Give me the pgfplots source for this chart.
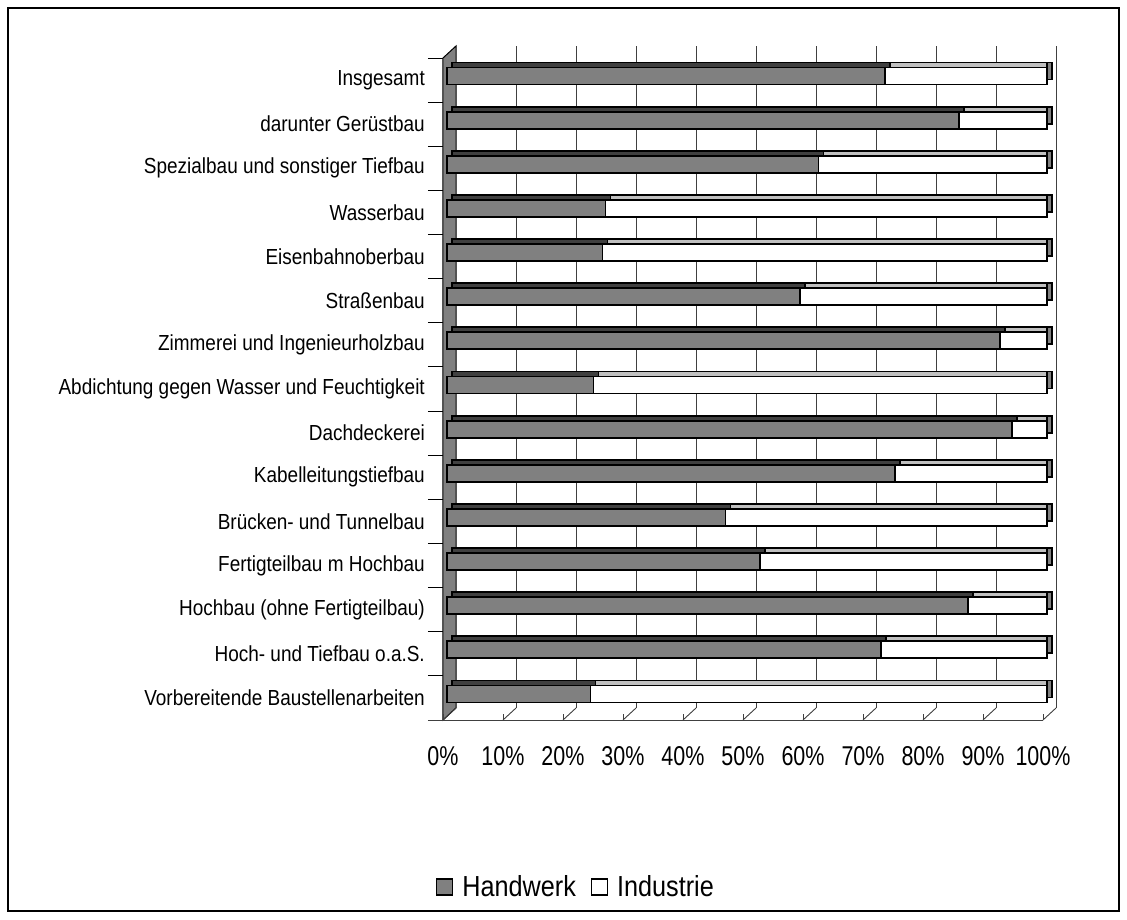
\documentclass[border=0pt]{standalone}
\usepackage{fontspec}
\setmainfont{Liberation Sans}[FakeStretch=0.87]
\newfontfamily\tickfont{Liberation Sans}[FakeStretch=0.79]
\usepackage{pgfplots}
\usepackage{pgfplotstable}
\pgfplotsset{compat=1.18}

\definecolor{hw}{HTML}{808080}
\definecolor{hwtop}{HTML}{404040}
\definecolor{intop}{HTML}{C0C0C0}
\definecolor{grid}{HTML}{404040}

% Anteile in Prozent, y=0 unten (Vorbereitende Baustellenarbeiten)
\pgfplotstableread{
y  H     I
0  23.9  76.1
1  72.3  27.7
2  86.8  13.2
3  52.2  47.8
4  46.4  53.6
5  74.7  25.3
6  94.1  5.9
7  24.4  75.6
8  92.2  7.8
9  58.8  41.2
10 25.9  74.1
11 26.4  73.6
12 61.9  38.1
13 85.3  14.7
14 73.0  27.0
}\anteile

\begin{document}
\begin{tikzpicture}[x=1pt,y=1pt]
\draw[line width=1.5pt] (8,8) rectangle (1119,911);
\begin{axis}[
  at={(443pt,199pt)}, anchor=south west,
  scale only axis, width=600pt, height=662pt,
  xmin=0, xmax=100, ymin=-0.5, ymax=14.5,
  clip=false,
  axis line style={draw=none},
  major tick length=0pt,
  xtick={0,10,...,100},
  xticklabels={0\%,10\%,20\%,30\%,40\%,50\%,60\%,70\%,80\%,90\%,100\%},
  ytick={0,...,14},
  yticklabels={Vorbereitende Baustellenarbeiten,Hoch- und Tiefbau o.a.S.,Hochbau (ohne Fertigteilbau),Fertigteilbau m Hochbau,Brücken- und Tunnelbau,Kabelleitungstiefbau,Dachdeckerei,Abdichtung gegen Wasser und Feuchtigkeit,Zimmerei und Ingenieurholzbau,Straßenbau,Eisenbahnoberbau,Wasserbau,Spezialbau und sonstiger Tiefbau,darunter Gerüstbau,Insgesamt},
  xticklabel style={font=\tickfont\fontsize{27.2}{30}\selectfont, inner sep=0pt, anchor=north, yshift=-26pt},
  yticklabel style={font=\fontsize{21.8}{24}\selectfont, inner sep=0pt, anchor=east, xshift=-18pt},
  legend style={at={(0.22,-0.2523)}, anchor=center, draw=none, fill=none,
    font=\fontsize{29}{32}\selectfont,
    nodes={inner sep=0pt},
    /tikz/every odd column/.append style={column sep=9pt},
    /tikz/every even column/.append style={column sep=15pt}},
  legend columns=-1,
  legend image code/.code={\draw[#1, line width=1.2pt] (0pt,-8pt) rectangle (16pt,8pt);},
  every axis plot/.append style={xbar, bar width=17pt, bar shift=0pt, draw=black, line width=1.8pt},
]
% linke Wand
\filldraw[fill=hw, draw=black, line width=1pt] (axis cs:0,-0.5) -- (axis cs:0,14.5)
  -- ([xshift=13pt,yshift=12pt]axis cs:0,14.5) -- ([xshift=13pt,yshift=12pt]axis cs:0,-0.5) -- cycle;
% Gitter an der Rueckwand, Boden
\pgfplotsinvokeforeach{10,20,...,100}{
  \draw[grid, line width=0.9pt] ([xshift=13pt,yshift=12pt]axis cs:#1,-0.5) -- ([xshift=13pt,yshift=12pt]axis cs:#1,14.5);
}
\pgfplotsinvokeforeach{0,10,...,100}{
  \draw[grid, line width=0.9pt] (axis cs:#1,-0.5) -- ([xshift=13pt,yshift=12pt]axis cs:#1,-0.5);
  \draw[grid, line width=0.9pt] (axis cs:#1,-0.5) -- ++(0,-16pt);
}
\draw[grid, line width=0.9pt] ([xshift=-15pt]axis cs:0,-0.5) -- (axis cs:100,-0.5);
\pgfplotsinvokeforeach{0.5,1.5,...,14.5}{
  \draw[black, line width=0.9pt] ([xshift=-15pt]axis cs:0,#1) -- (axis cs:0,#1);
}

% Balken: Ober-/Seitenflaechen
\addplot[fill=hw, xshift=9pt, yshift=9pt, forget plot] table[x expr=\thisrow{H}+\thisrow{I}, y=y]{\anteile};
\addplot[fill=intop, xshift=9pt, yshift=9pt, forget plot] table[x expr=\thisrow{H}+\thisrow{I}-0.833, y=y]{\anteile};
\addplot[fill=hwtop, xshift=9pt, yshift=9pt, forget plot] table[x=H, y=y]{\anteile};
% Vorderseiten
\addplot[fill=white, xshift=4pt, yshift=4pt, forget plot] table[x expr=\thisrow{H}+\thisrow{I}, y=y]{\anteile};
\addplot[fill=hw, xshift=4pt, yshift=4pt, forget plot] table[x=H, y=y]{\anteile};

\addlegendimage{fill=hw, draw=black}
\addlegendentry{Handwerk}
\addlegendimage{fill=white, draw=black}
\addlegendentry{Industrie}
\end{axis}
\pgfresetboundingbox
\path[use as bounding box] (0,0) rectangle (1127,919);
\end{tikzpicture}
\end{document}
